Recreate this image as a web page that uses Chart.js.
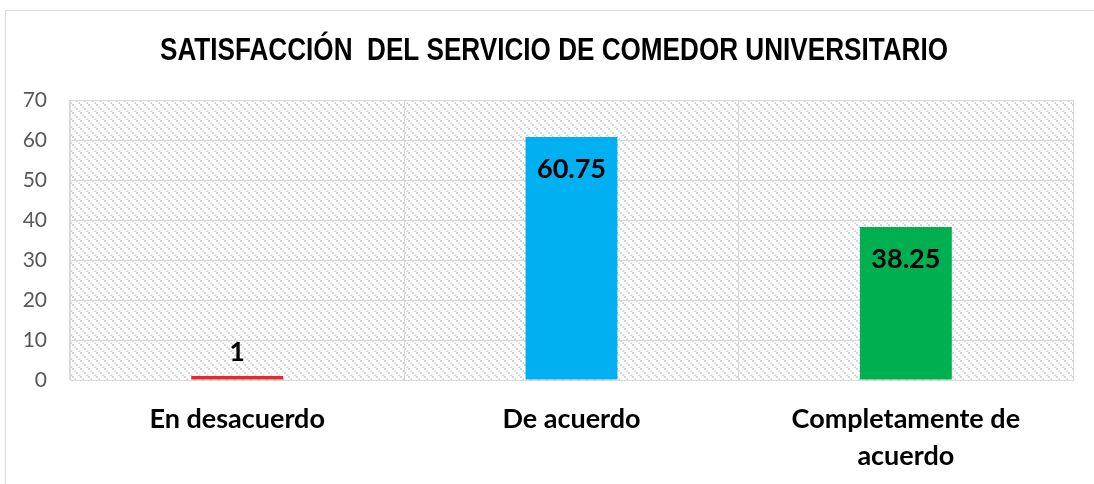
<!DOCTYPE html>
<html>
<head>
<meta charset="utf-8">
<script src="https://cdn.jsdelivr.net/npm/chart.js@4"></script>
<style>
  html, body { margin: 0; padding: 0; background: #fff; }
  #wrap { position: relative; width: 1094px; height: 484px; }
  #frame { position: absolute; left: 5px; top: 10px; width: 1200px; height: 600px; border: 1px solid #d9d9d9; box-sizing: border-box; }
  canvas { position: absolute; left: 0; top: 0; }
</style>
</head>
<body>
<div id="wrap">
  <div id="frame"></div>
  <canvas id="c" width="1094" height="484"></canvas>
</div>
<script>
const titleText = "SATISFACCIÓN  DEL SERVICIO DE COMEDOR UNIVERSITARIO";
const categories = [["En desacuerdo"], ["De acuerdo"], ["Completamente de", "acuerdo"]];
const values = [1, 60.75, 38.25];
const barColors = ["#e8262b", "#00b0f0", "#00b050"];
const yMin = 0, yMax = 70, yStep = 10;

function makeHatch() {
  const t = document.createElement('canvas');
  t.width = 8; t.height = 8;
  const g = t.getContext('2d');
  g.fillStyle = '#ffffff'; g.fillRect(0,0,8,8);
  g.fillStyle = '#d6d6d6';
  g.fillRect(0,0,2,2); g.fillRect(2,2,2,2); g.fillRect(4,4,2,2); g.fillRect(6,6,2,2);
  g.fillStyle = '#ffffff';
  g.fillRect(2,2,1,1); g.fillRect(6,6,1,1);
  return t;
}

const bgPlugin = {
  id: 'bgHatch',
  beforeDraw(chart) {
    const {ctx, chartArea: a} = chart;
    ctx.save();
    ctx.fillStyle = ctx.createPattern(makeHatch(), 'repeat');
    ctx.fillRect(a.left, a.top, a.right - a.left, a.bottom - a.top);
    ctx.restore();
  }
};

const titlePlugin = {
  id: 'titleDraw',
  afterDraw(chart) {
    const ctx = chart.ctx;
    ctx.save();
    ctx.fillStyle = '#000';
    ctx.font = "bold 31px 'Liberation Sans', Arial, sans-serif";
    ctx.textBaseline = 'middle';
    ctx.textAlign = 'center';
    const w = ctx.measureText(titleText).width;
    const target = 788;
    const sx = target / w;
    ctx.translate(554, 51);
    ctx.scale(sx, 1);
    ctx.fillText(titleText, 0, 0);
    ctx.restore();
  }
};

const labelPlugin = {
  id: 'valLabels',
  afterDatasetsDraw(chart) {
    const ctx = chart.ctx;
    const meta = chart.getDatasetMeta(0);
    ctx.save();
    ctx.fillStyle = '#000';
    ctx.font = "bold 27px Lato, 'Open Sans', sans-serif";
    ctx.textAlign = 'center';
    ctx.textBaseline = 'middle';
    meta.data.forEach((bar, i) => {
      const v = values[i];
      const y = v > 5 ? bar.y + 32 : bar.y - 24;
      ctx.fillText(String(v), bar.x, y);
    });
    ctx.restore();
  }
};

new Chart(document.getElementById('c'), {
  type: 'bar',
  data: {
    labels: categories,
    datasets: [{
      data: values,
      backgroundColor: barColors,
      borderWidth: 0,
      barPercentage: 0.275,
      categoryPercentage: 1
    }]
  },
  options: {
    responsive: false,
    animation: false,
    layout: { padding: { top: 100, left: 0, right: 21, bottom: 0 } },
    plugins: { legend: { display: false }, title: { display: false }, tooltip: { enabled: false } },
    scales: {
      x: {
        grid: { color: '#d9d9d9', drawTicks: false, offset: true },
        border: { color: '#d9d9d9' },
        ticks: { color: '#000', padding: 21, font: { family: "Lato, 'Open Sans', sans-serif", size: 27, weight: 'bold', lineHeight: 1.37 }, maxRotation: 0 },
        afterFit(s) { s.height = 104; }
      },
      y: {
        min: yMin, max: yMax,
        grid: { color: '#d9d9d9', drawTicks: false },
        border: { color: '#d9d9d9' },
        ticks: { stepSize: yStep, color: '#595959', padding: 23, font: { family: "Lato, 'Open Sans', sans-serif", size: 21 } },
        afterFit(s) { s.width = 70; }
      }
    }
  },
  plugins: [bgPlugin, titlePlugin, labelPlugin]
});
</script>
</body>
</html>
